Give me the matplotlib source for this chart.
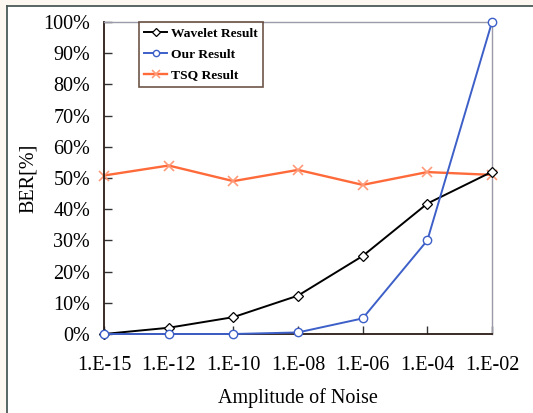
import matplotlib
matplotlib.use('Agg')
import matplotlib.pyplot as plt
from matplotlib.lines import Line2D
from matplotlib.ticker import FuncFormatter

# data
noise_labels = ['1.E-15', '1.E-12', '1.E-10', '1.E-08', '1.E-06', '1.E-04', '1.E-02']
wavelet = [0, 2, 5.4, 12.3, 25, 41.8, 52]
ours = [0, 0, 0, 0.5, 5, 30, 100]
tsq = [50.8, 54, 49, 52.6, 47.8, 51.9, 51]

plt.rcParams['font.family'] = ['Liberation Serif', 'DejaVu Serif']

fig = plt.figure(figsize=(5.33, 4.13), dpi=100)
fig.patch.set_facecolor('#fdf7f2')
# white panel with the frame on left/top
fig.add_artist(plt.Rectangle((7/533, 0), 1, 1 - 6/413, transform=fig.transFigure,
                             facecolor='white', edgecolor='none', zorder=-1))
fig.add_artist(Line2D([7/533, 7/533], [0, 1 - 6/413], transform=fig.transFigure, color='#4a5a58', lw=1.3))
fig.add_artist(Line2D([7/533, 1], [1 - 6/413, 1 - 6/413], transform=fig.transFigure, color='#4a5a58', lw=1.3))

ax = fig.add_axes([104/533, 79/413, 388/533, 312/413])
x = list(range(len(noise_labels)))

ax.plot(x, wavelet, color='black', lw=1.4, marker='D', ms=5, mfc='white', mec='black', mew=0.9,
        label='Wavelet Result', zorder=3)
ax.plot(x, ours, color='#3d5fc8', lw=1.4, marker='o', ms=6, mfc='white', mec='#3d5fc8', mew=1.0,
        label='Our Result', zorder=4)
ax.plot(x, tsq, color='#ff6a3a', lw=1.7, marker='x', ms=7, mec='#ff9a78', mew=1.2,
        label='TSQ Result', zorder=2)

ax.set_xlim(0, 6)
ax.set_ylim(0, 100)
ax.set_xticks(x)
ax.set_xticklabels(noise_labels)
ax.set_yticks(range(0, 101, 10))
ax.yaxis.set_major_formatter(FuncFormatter(lambda v, p: '%d%%' % v))
ax.tick_params(axis='both', direction='in', length=6, width=1, labelsize=14.5, color='#333333')
ax.tick_params(axis='x', pad=16)
ax.tick_params(axis='y', pad=10)

for s in ['left', 'bottom']:
    ax.spines[s].set_color('#2a1a14')
    ax.spines[s].set_linewidth(1.3)
for s in ['top', 'right']:
    ax.spines[s].set_color('#9a9aa8')
    ax.spines[s].set_linewidth(1.0)

for l in ax.lines:
    l.set_clip_on(False)

ax.set_xlabel('Amplitude of Noise', fontsize=14.5, labelpad=9)
ax.set_ylabel('BER[%]', fontsize=14.5, labelpad=4)

leg = ax.legend(loc='upper left', bbox_to_anchor=(35/388, 1.0), borderaxespad=0, frameon=True,
                fancybox=False, handlelength=1.7, handletextpad=0.3, borderpad=0.4,
                labelspacing=0.62, markerscale=0.75, prop={'weight': 'bold', 'size': 9.7})
leg.get_frame().set_edgecolor('#4a2a1a')
leg.get_frame().set_linewidth(1.2)

fig.savefig('out.png', dpi=100, facecolor=fig.get_facecolor())
